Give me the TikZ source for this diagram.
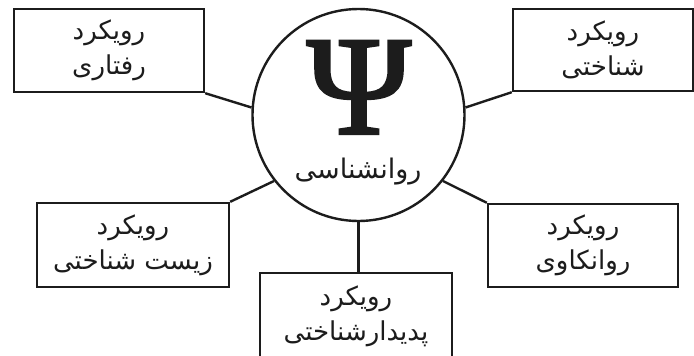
\documentclass[tikz,border=0pt]{standalone}
\usepackage{fontspec}
\setmainfont{Liberation Serif}
\newfontfamily\psifont[FakeBold=2.2]{Liberation Serif}
\newfontfamily\arabicfont[Script=Arabic]{DejaVu Sans}
\TeXXeTstate=1
\definecolor{ink}{HTML}{1C1C1C}
\begin{document}
\begin{tikzpicture}[x=1pt,y=-1pt,
  abox/.style={draw=ink, line width=2.4pt, rectangle, inner sep=0pt, align=center,
    text=ink, font=\arabicfont\fontsize{26}{35}\selectfont},
  conn/.style={draw=ink, line width=2.4pt},
  hub/.style={circle, draw=ink, line width=2.4pt, inner sep=0pt, minimum size=212pt}]
\useasboundingbox[fill=white] (0,0) rectangle (694,356);
\node[hub] (c) at (358.5,115) {};
\node[anchor=base, text=ink, inner sep=0pt] (psi) at (359,133.5) {\psifont\fontsize{141}{141}\selectfont Ψ};
\node[anchor=base, text=ink, inner sep=0pt, font=\arabicfont\fontsize{27}{30}\selectfont] (lbl) at (358,178) {\beginR روانشناسی\endR};
\node[abox, minimum width=190pt, minimum height=83pt] (tl) at (109,50.5) {\beginR رویکرد\endR\\\beginR رفتاری\endR};
\node[abox, minimum width=180pt, minimum height=82pt] (tr) at (603,50) {\beginR رویکرد\endR\\\beginR شناختی\endR};
\node[abox, minimum width=192pt, minimum height=84pt] (ml) at (133,245) {\beginR رویکرد\endR\\\beginR زیست شناختی\endR};
\node[abox, minimum width=190pt, minimum height=83pt] (mr) at (583,245.5) {\beginR رویکرد\endR\\\beginR روانکاوی\endR};
\node[abox, minimum width=192pt, minimum height=86pt] (b) at (356,316) {\beginR رویکرد\endR\\\beginR پدیدارشناختی\endR};
\draw[conn] (tl.south east) -- (c.176);
\draw[conn] (tr.south west) -- (c.4);
\draw[conn] (ml.north east) -- (c.218);
\draw[conn] (mr.north west) -- (c.322);
\draw[conn] (c.south) -- (c.south |- b.north);
\end{tikzpicture}
\end{document}
